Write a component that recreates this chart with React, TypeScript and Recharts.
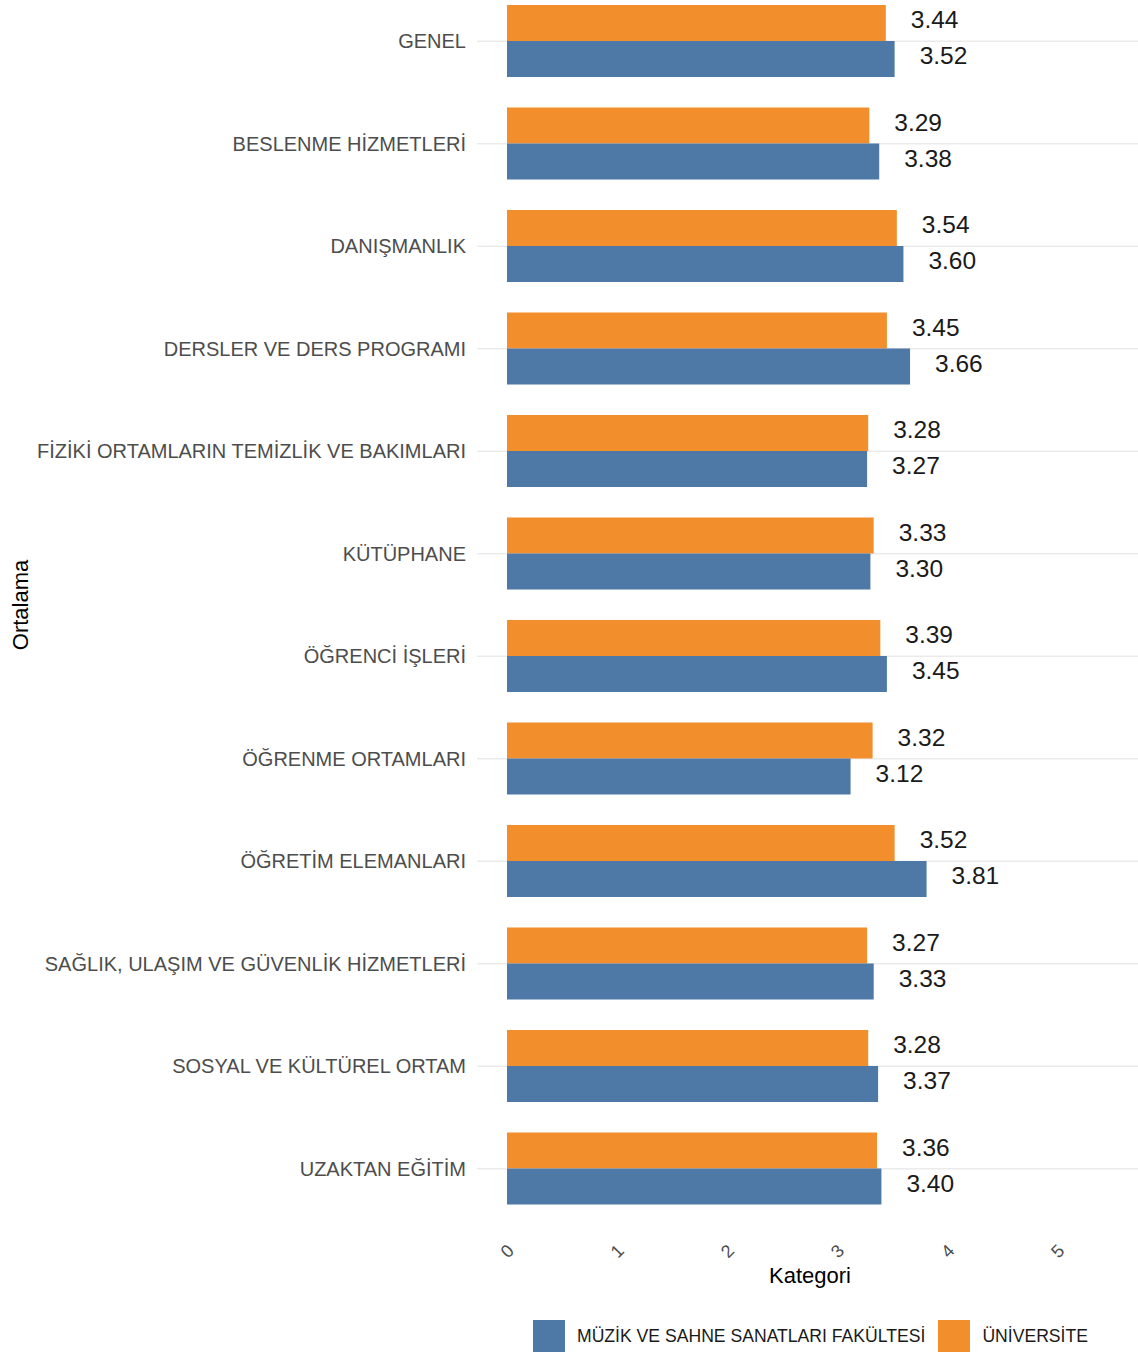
import React from 'react';
import { BarChart, Bar, XAxis, YAxis, CartesianGrid, LabelList, Label } from 'recharts';

const categories = [
  'GENEL',
  'BESLENME HİZMETLERİ',
  'DANIŞMANLIK',
  'DERSLER VE DERS PROGRAMI',
  'FİZİKİ ORTAMLARIN TEMİZLİK VE BAKIMLARI',
  'KÜTÜPHANE',
  'ÖĞRENCİ İŞLERİ',
  'ÖĞRENME ORTAMLARI',
  'ÖĞRETİM ELEMANLARI',
  'SAĞLIK, ULAŞIM VE GÜVENLİK HİZMETLERİ',
  'SOSYAL VE KÜLTÜREL ORTAM',
  'UZAKTAN EĞİTİM',
];
const universiteValues = [3.44, 3.29, 3.54, 3.45, 3.28, 3.33, 3.39, 3.32, 3.52, 3.27, 3.28, 3.36];
const muzikValues = [3.52, 3.38, 3.6, 3.66, 3.27, 3.3, 3.45, 3.12, 3.81, 3.33, 3.37, 3.4];
const xTicks = [0, 1, 2, 3, 4, 5];
const seriesNames = ['MÜZİK VE SAHNE SANATLARI FAKÜLTESİ', 'ÜNİVERSİTE'];

const BLUE = '#4E79A7';
const ORANGE = '#F28E2B';
const FONT = '"Liberation Sans", Arial, sans-serif';

const data = categories.map((c, i) => ({ cat: c, uni: universiteValues[i], muzik: muzikValues[i] }));

const ValueLabel = (props: any) => {
  const { x, y, width, height, value } = props;
  return (
    <text x={x + width + 25} y={y + height / 2 - 3.5} dy="0.35em" fontSize={24.5} fill="#1a1a1a" fontFamily={FONT}>
      {Number(value).toFixed(2)}
    </text>
  );
};

const XTick = (props: any) => {
  const { x, y, payload } = props;
  const yy = y + 13;
  return (
    <text
      x={x}
      y={yy}
      transform={`rotate(-45, ${x}, ${yy})`}
      textAnchor="middle"
      dy="0.35em"
      fontSize={18}
      fill="#4d4d4d"
      fontFamily={FONT}
    >
      {payload.value}
    </text>
  );
};

const gridGen = (props: any) => {
  const off = props && props.offset;
  if (!off) return [];
  const step = off.height / categories.length;
  return categories.map((_c, i) => off.top + step * (i + 0.5));
};

export default function App() {
  return (
    <div style={{ position: 'absolute', left: 0, top: 0, width: 1138, height: 1355, overflow: 'hidden', background: '#fff' }}>
      <div style={{ position: 'absolute', left: 0, top: -10.25 }}>
        <BarChart
          width={1138}
          height={1300}
          data={data}
          layout="vertical"
          margin={{ top: 0, right: 0, bottom: 10, left: 0 }}
          barSize={36}
          barGap={0}
        >
          <CartesianGrid
            horizontal={true}
            vertical={false}
            stroke="#ebebeb"
            strokeWidth={1.5}
            horizontalCoordinatesGenerator={gridGen}
          />
          <XAxis
            type="number"
            dataKey="uni"
            domain={[0, 5.73]}
            ticks={xTicks}
            allowDataOverflow
            axisLine={false}
            tickLine={false}
            height={60}
            tick={<XTick />}
            tickMargin={12}
          >
            <Label
              content={() => (
                <text x={810} y={1275 + 10.25} textAnchor="middle" dy="0.35em" fontSize={22} fill="#000" fontFamily={FONT}>
                  Kategori
                </text>
              )}
            />
          </XAxis>
          <YAxis
            type="category"
            dataKey="cat"
            width={507}
            axisLine={false}
            tickLine={{ stroke: '#ebebeb', strokeWidth: 1.5 }}
            tickSize={30}
            tickMargin={11}
            tick={{ fontSize: 20, fill: '#4d4d4d', fontFamily: FONT }}
            interval={0}
          >
            <Label
              content={() => (
                <text
                  x={20}
                  y={615}
                  transform={`rotate(-90, 20, 615)`}
                  textAnchor="middle"
                  dy="0.35em"
                  fontSize={22}
                  fill="#000"
                  fontFamily={FONT}
                >
                  Ortalama
                </text>
              )}
            />
          </YAxis>
          <Bar dataKey="uni" fill={ORANGE} isAnimationActive={false}>
            <LabelList dataKey="uni" content={<ValueLabel />} />
          </Bar>
          <Bar dataKey="muzik" fill={BLUE} isAnimationActive={false}>
            <LabelList dataKey="muzik" content={<ValueLabel />} />
          </Bar>
        </BarChart>
      </div>
      <div
        style={{
          position: 'absolute',
          top: 1320,
          left: 533,
          display: 'flex',
          alignItems: 'center',
          fontFamily: FONT,
          fontSize: 17.6,
          color: '#1a1a1a',
          whiteSpace: 'nowrap',
        }}
      >
        <div style={{ width: 32, height: 32, background: BLUE }} />
        <span style={{ marginLeft: 12 }}>{seriesNames[0]}</span>
        <div style={{ width: 32, height: 32, background: ORANGE, marginLeft: 13 }} />
        <span style={{ marginLeft: 12 }}>{seriesNames[1]}</span>
      </div>
    </div>
  );
}
